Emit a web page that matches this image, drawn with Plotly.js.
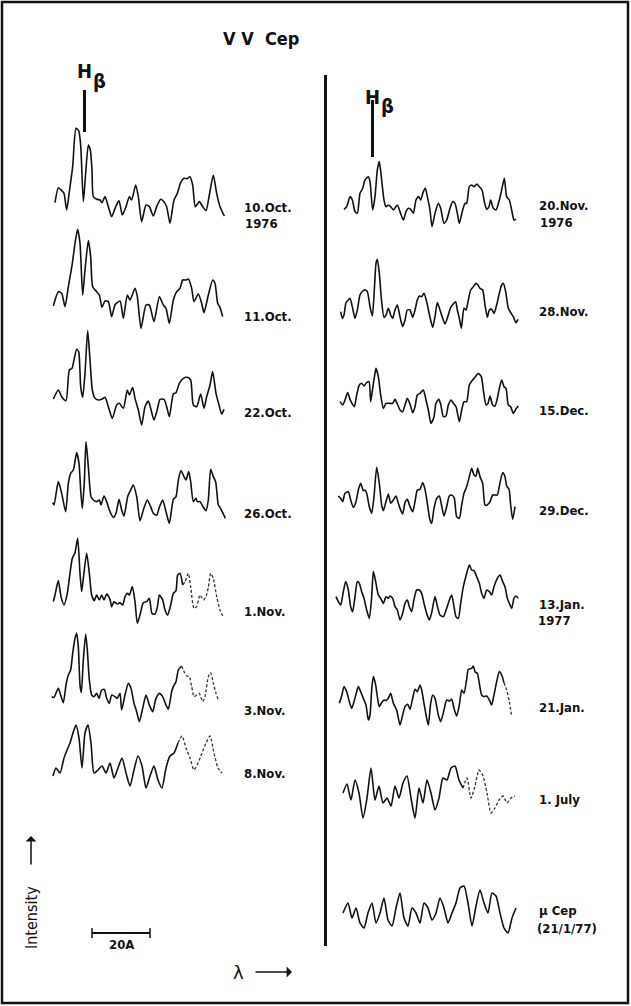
<!DOCTYPE html>
<html><head><meta charset="utf-8">
<script src="https://cdn.plot.ly/plotly-3.0.1.min.js"></script>
<style>html,body{margin:0;padding:0;background:#fff;}#chart{width:631px;height:1006px;}</style>
</head><body><div id="chart"></div>
<script>
// ---- DATA: scan position (chart units) and relative intensity for each spectrum ----
const pos_10Oct = [45,55,65,72,80,88,98,108,116,122,130,137,145,151,156,160,170,180,186,195,205,215,225,237,247,258,268,275,287,295,305,318,328,340,350,362,372,380,390,402,412,422,432,442,450,458,466,478,488,498,508,520,530,540,553];
const int_10Oct = [72,117,108,100,50,105,180,295,288,245,75,160,245,230,170,90,82,80,72,90,60,30,55,78,35,60,90,80,125,90,15,65,60,32,60,82,75,60,10,80,100,132,145,144,150,125,60,75,60,48,95,155,100,60,32];

const pos_11Oct = [40,55,65,75,85,97,105,113,120,128,135,145,152,158,170,178,186,195,205,215,225,240,250,262,270,285,292,303,318,328,342,358,370,378,388,400,410,420,428,438,445,455,462,475,485,492,505,518,525,533,540,548];
const int_11Oct = [242,285,280,240,300,370,430,472,430,275,350,438,390,300,285,275,238,257,255,210,245,257,205,275,260,295,270,175,245,245,195,270,245,235,190,260,285,295,320,320,323,295,255,278,250,222,275,320,310,250,238,210];

const pos_22Oct = [40,55,65,78,88,96,102,110,116,122,128,135,143,150,157,165,175,185,195,205,217,230,238,250,262,268,278,285,295,305,315,325,332,342,352,360,372,380,388,400,408,418,430,442,452,460,470,482,492,500,510,518,528,537,545,552];
const int_22Oct = [263,290,270,258,350,355,380,412,405,300,268,340,468,380,290,265,260,262,268,240,205,245,250,235,290,275,297,265,230,185,240,257,235,200,232,262,262,240,210,278,282,310,325,328,320,245,240,278,235,270,305,345,280,245,218,232];

const pos_26Oct = [38,42,55,65,77,85,92,100,110,117,122,127,133,138,145,153,160,170,178,183,192,200,210,220,228,237,245,252,263,272,280,290,300,310,322,332,340,350,358,368,378,388,400,408,415,423,432,438,446,452,460,468,472,480,490,498,505,512,520,527,535,540,548,556];
const int_26Oct = [282,275,345,310,255,340,370,380,432,400,320,265,345,465,390,300,290,285,290,275,302,285,255,238,250,292,260,242,300,320,335,300,228,260,290,270,250,244,268,290,255,220,292,300,350,378,360,350,375,345,285,295,285,285,268,258,290,382,360,345,275,268,252,235];

const pos_1Nov = [40,45,55,63,72,82,90,97,105,113,120,125,130,140,148,155,163,170,178,185,192,200,210,215,222,232,240,248,255,262,268,277,285,292,300,310,320,328,336,345,352,358,368,375,383,392,400,408,413,420,428,435,445,452,462,470,480,490,498,505,512,520,530,540,548];
const int_1Nov = [285,305,348,300,275,310,370,415,432,475,370,315,355,430,370,305,288,305,290,305,290,308,292,270,285,278,282,275,300,310,305,330,285,220,245,282,285,295,250,248,268,305,290,260,245,275,310,318,365,370,335,345,370,330,265,270,305,290,300,328,370,355,300,260,242];

const pos_3Nov = [35,42,55,62,70,78,85,92,98,105,110,115,120,124,130,137,142,148,155,162,170,177,185,193,200,208,215,225,232,240,245,255,265,273,282,290,298,308,318,328,338,348,358,368,378,385,395,400,408,415,425,432,440,448,455,462,470,478,488,495,505,512,520,528,535];
const int_3Nov = [330,328,355,335,312,365,395,410,460,505,520,480,365,342,440,518,470,380,335,330,340,325,350,352,325,310,335,330,325,340,290,335,370,355,310,285,255,295,335,305,285,325,340,330,305,292,345,360,375,410,422,405,392,390,360,330,335,340,315,330,390,402,370,340,320];

const pos_8Nov = [39,48,60,72,81,90,99,108,117,126,135,144,153,162,174,186,198,210,222,234,246,258,270,282,294,306,318,330,342,354,366,378,390,402,414,426,438,450,462,474,486,498,510,522,534,546];
const int_8Nov = [326,350,335,380,404,425,455,479,440,350,455,479,425,335,344,356,335,365,320,350,380,335,296,344,386,356,290,326,356,314,290,350,386,395,425,446,410,380,344,365,395,425,446,395,350,335];

const pos_20Nov = [72,80,90,97,105,112,120,128,135,145,150,158,165,172,178,185,192,198,205,212,220,232,240,250,258,265,272,280,288,296,302,310,316,322,330,336,345,355,362,372,380,390,398,405,412,418,428,435,440,448,455,463,470,478,486,494,500,507,512,520,528,538,545,553,560,568,575,582,588];
const int_20Nov = [52,60,90,80,45,40,100,115,140,150,135,50,90,170,195,140,80,60,65,60,50,65,45,20,45,55,52,40,80,90,80,105,115,90,50,0,40,70,55,10,20,55,75,70,40,10,50,70,70,120,125,120,128,120,110,70,52,60,80,55,50,80,110,145,90,80,50,20,22];

const pos_28Nov = [62,67,72,78,85,90,97,105,112,120,128,135,142,150,157,163,168,172,178,184,192,198,205,212,218,225,232,240,248,255,262,270,278,285,292,298,305,312,320,330,338,345,352,360,368,375,384,392,400,407,412,418,424,432,438,445,452,460,468,474,480,488,495,502,508,515,522,530,538,545,550,557,565,572,580,588,594];
const int_28Nov = [255,235,245,282,290,295,270,235,260,305,317,320,315,270,242,320,400,412,370,295,238,245,265,245,235,260,275,240,210,230,260,260,238,260,290,302,300,310,285,238,208,240,282,260,235,218,242,268,278,285,260,235,205,265,260,290,320,330,340,335,325,320,275,238,260,262,250,275,310,335,340,315,265,252,240,222,232];

const pos_15Dec = [60,68,75,83,90,97,103,110,118,125,132,140,147,152,158,165,168,175,182,190,198,208,218,225,232,240,248,255,262,270,278,285,292,300,310,318,325,333,342,348,356,362,370,378,385,393,400,408,418,425,432,440,448,458,466,475,484,490,498,504,510,518,525,532,538,545,552,558,565,572,580,587,595];
const int_15Dec = [315,305,320,342,322,308,300,335,365,370,362,372,375,315,355,400,415,390,335,295,310,310,310,322,308,290,285,305,325,308,282,300,335,340,350,320,290,250,270,310,322,308,270,272,305,320,310,300,255,290,315,315,365,380,390,400,390,350,305,310,332,305,302,325,355,380,360,355,305,300,280,292,302];

const pos_29Dec = [55,62,68,75,85,92,100,108,115,122,130,135,140,148,155,162,170,178,185,190,198,205,212,220,228,235,240,248,255,262,270,278,285,292,300,308,315,322,330,335,342,350,358,365,372,380,388,395,403,410,418,425,432,440,448,455,462,468,473,480,488,495,502,510,518,525,532,540,548,555,560,567,572,578,585];
const int_29Dec = [332,325,315,340,345,320,298,315,350,370,348,350,340,300,280,330,418,370,305,288,315,338,310,320,332,310,295,278,312,322,300,285,315,350,352,372,352,310,260,250,295,325,332,302,272,300,332,335,325,270,265,305,340,360,390,415,395,392,415,390,370,305,305,315,335,335,335,372,402,390,362,352,305,262,300];

const pos_13Jan = [48,55,62,70,77,85,92,98,105,112,118,125,132,140,148,155,160,167,175,182,190,198,205,210,218,225,232,240,248,255,262,268,275,282,290,298,305,312,320,328,335,345,352,360,370,380,388,395,402,408,415,422,430,438,448,455,462,470,478,485,492,500,508,515,522,532,540,548,555,562,570,575,582,588,595];
const int_13Jan = [330,315,305,345,375,350,300,285,330,375,370,345,325,290,265,330,405,375,335,325,310,330,325,332,325,300,290,260,280,310,320,300,285,322,350,350,340,310,280,260,282,330,302,275,270,295,320,335,300,270,265,310,360,392,425,410,408,390,370,340,325,350,345,335,360,385,395,375,360,325,305,295,325,332,325];

const pos_21Jan = [58,65,72,80,88,95,102,110,115,122,130,138,145,150,155,160,167,172,178,185,192,198,205,212,220,230,240,248,255,263,270,278,285,292,300,305,312,320,325,332,338,345,355,362,372,380,388,395,402,410,418,425,432,440,445,455,460,465,472,478,485,492,500,508,515,522,530,538,545,552,560,568,575];
const int_21Jan = [310,332,360,345,315,295,315,345,360,345,325,305,260,275,350,390,365,330,300,312,320,318,325,340,310,290,245,275,300,307,292,325,352,345,365,350,310,265,245,310,335,325,275,255,290,320,317,322,295,272,305,350,340,382,412,415,422,405,400,370,335,330,332,320,305,335,375,405,395,372,350,315,272];

const pos_1July = [69,81,93,105,117,129,141,153,165,177,189,201,213,225,237,249,261,273,285,297,309,321,333,345,357,369,381,393,405,417,429,441,453,465,477,489,501,513,525,537,549,561,573,585];
const int_1July = [365,392,344,404,365,290,350,440,344,386,335,350,326,386,350,395,416,350,290,380,335,404,365,314,350,410,404,440,446,404,380,410,350,386,434,416,365,305,320,344,356,335,350,356];

const pos_muCep = [69,84,96,108,120,132,144,156,168,180,192,204,216,228,240,252,264,276,288,300,312,324,336,348,360,372,384,396,408,420,432,444,456,468,480,492,504,516,528,540,552,564,576,588];
const int_muCep = [305,335,290,320,275,260,305,335,275,305,350,284,266,320,365,290,266,320,305,275,335,320,284,305,350,320,275,305,335,380,386,335,266,326,374,335,305,365,356,305,260,245,290,320];

const leftLabels  = ['10.Oct.','11.Oct.','22.Oct.','26.Oct.','1.Nov.','3.Nov.','8.Nov.'];
const rightLabels = ['20.Nov.','28.Nov.','15.Dec.','29.Dec.','13.Jan.','21.Jan.','1. July','\u03bc Cep'];

// ---- LAYOUT ----
const W = 631, H = 1006;
const fx = px => px / W, fy = py => 1 - py / H;

const spectra = [
  {x: pos_10Oct, y: int_10Oct, col: 0, top: 60,  faint: null},
  {x: pos_11Oct, y: int_11Oct, col: 0, top: 220, faint: null},
  {x: pos_22Oct, y: int_22Oct, col: 0, top: 320, faint: null},
  {x: pos_26Oct, y: int_26Oct, col: 0, top: 430, faint: null},
  {x: pos_1Nov,  y: int_1Nov,  col: 0, top: 530, faint: 428},
  {x: pos_3Nov,  y: int_3Nov,  col: 0, top: 640, faint: 425},
  {x: pos_8Nov,  y: int_8Nov,  col: 0, top: 718, faint: 414},
  {x: pos_20Nov, y: int_20Nov, col: 1, top: 60,  faint: null},
  {x: pos_28Nov, y: int_28Nov, col: 1, top: 230, faint: null},
  {x: pos_15Dec, y: int_15Dec, col: 1, top: 340, faint: null},
  {x: pos_29Dec, y: int_29Dec, col: 1, top: 440, faint: null},
  {x: pos_13Jan, y: int_13Jan, col: 1, top: 540, faint: null},
  {x: pos_21Jan, y: int_21Jan, col: 1, top: 640, faint: 552},
  {x: pos_1July, y: int_1July, col: 1, top: 748, faint: 429},
  {x: pos_muCep, y: int_muCep, col: 1, top: 848, faint: null}
];

const traces = [];
const layout = {
  width: W, height: H, margin: {l: 0, r: 0, t: 0, b: 0},
  paper_bgcolor: '#fff', plot_bgcolor: 'rgba(0,0,0,0)', showlegend: false,
  xaxis:  {domain: [fx(40), fx(240)],  range: [0, 600], visible: false, anchor: 'free', position: 0},
  xaxis2: {domain: [fx(320), fx(530)], range: [0, 630], visible: false, anchor: 'free', position: 0},
  annotations: [], shapes: []
};

spectra.forEach((s, i) => {
  const n = i + 1;
  const yKey = n === 1 ? 'yaxis' : 'yaxis' + n;
  const yRef = n === 1 ? 'y' : 'y' + n;
  const t = s.top - 15, b = Math.min(s.top + 175, H);
  layout[yKey] = {domain: [fy(b), fy(t)], range: [500 - (b - s.top) * 3, 500 + (s.top - t) * 3],
                  visible: false, anchor: s.col ? 'x2' : 'x'};
  const xRef = s.col ? 'x2' : 'x';
  const base = {mode: 'lines', xaxis: xRef, yaxis: yRef, hoverinfo: 'skip',
                line: {color: '#111', width: 1.6, shape: 'spline', smoothing: 0.6}};
  if (s.faint == null) {
    traces.push(Object.assign({}, base, {x: s.x, y: s.y}));
  } else {
    const k = s.x.findIndex(v => v >= s.faint);
    traces.push(Object.assign({}, base, {x: s.x.slice(0, k + 1), y: s.y.slice(0, k + 1)}));
    traces.push(Object.assign({}, base, {x: s.x.slice(k), y: s.y.slice(k),
      line: {color: '#333', width: 1.3, shape: 'spline', smoothing: 0.6, dash: '3px,2px'}}));
  }
});

const lblFont = {family: 'DejaVu Sans Condensed, Liberation Sans Narrow, sans-serif', size: 13, color: '#111', weight: 700};
function txt(px, py, text, opts) {
  layout.annotations.push(Object.assign({xref: 'paper', yref: 'paper', x: fx(px), y: fy(py), text: text,
    showarrow: false, xanchor: 'left', yanchor: 'middle', font: lblFont}, opts || {}));
}
const leftY  = [207, 316, 412, 513, 611, 710, 773];
const rightY = [205, 312, 410, 510, 604, 707, 799, 910];
leftLabels.forEach((l, i) => txt(242, leftY[i], l));
rightLabels.forEach((l, i) => txt(537, rightY[i], l));
txt(261, 223, '1976', {xanchor: 'center'});
txt(556, 222, '1976', {xanchor: 'center'});
txt(554, 620, '1977', {xanchor: 'center'});
txt(535, 928, '(21/1/77)');

// title and H-beta
const boldBig = {family: 'DejaVu Sans Condensed, sans-serif', size: 18, color: '#111', weight: 700};
const hbFont = {family: 'DejaVu Sans Condensed, sans-serif', size: 20, color: '#111', weight: 700};
txt(261, 38, 'V V  Cep', {xanchor: 'center', font: boldBig});
txt(84, 71, 'H', {xanchor: 'center', font: hbFont});
txt(99, 81, '\u03b2', {xanchor: 'center', font: hbFont});
txt(372, 97, 'H', {xanchor: 'center', font: hbFont});
txt(387, 106, '\u03b2', {xanchor: 'center', font: hbFont});

function line(x0, y0, x1, y1, w) {
  layout.shapes.push({type: 'line', xref: 'paper', yref: 'paper', x0: fx(x0), y0: fy(y0), x1: fx(x1), y1: fy(y1),
    line: {color: '#111', width: w}});
}
line(84.5, 90, 84.5, 132, 3);
line(372.5, 100, 372.5, 157, 3);
line(325.5, 75, 325.5, 946, 3);
// frame
layout.shapes.push({type: 'rect', xref: 'paper', yref: 'paper', x0: fx(2), y0: fy(1003), x1: fx(628), y1: fy(2),
  line: {color: '#111', width: 2.5}});
// scale bar
line(92, 933, 150, 933, 2);
line(92, 928, 92, 938, 1.5);
line(150, 928, 150, 938, 1.5);
txt(121, 944, '20A', {xanchor: 'center'});
// intensity arrow
txt(31, 918, 'Intensity', {xanchor: 'center', textangle: -90,
  font: {family: 'DejaVu Sans Condensed, sans-serif', size: 16, color: '#111'}});
layout.annotations.push({xref: 'paper', yref: 'paper', x: fx(31), y: fy(836), ax: 0, ay: 30, text: '',
  showarrow: true, arrowhead: 1, arrowsize: 1.2, arrowwidth: 1.5, arrowcolor: '#111'});
// lambda arrow
txt(238, 972, '\u03bb', {xanchor: 'center', font: {family: 'DejaVu Sans, sans-serif', size: 18, color: '#111'}});
layout.annotations.push({xref: 'paper', yref: 'paper', x: fx(292), y: fy(972), ax: -38, ay: 0, text: '',
  showarrow: true, arrowhead: 1, arrowsize: 1.2, arrowwidth: 1.5, arrowcolor: '#111'});

Plotly.newPlot('chart', traces, layout, {staticPlot: true, displayModeBar: false});
</script></body></html>
